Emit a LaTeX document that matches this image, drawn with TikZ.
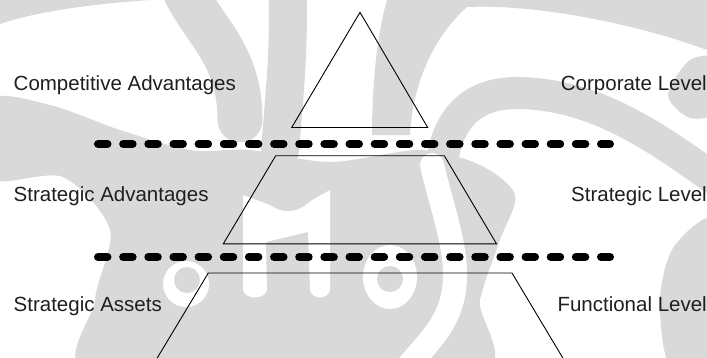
\documentclass[tikz,border=0pt]{standalone}
\usepackage{fontspec}
\setmainfont{Liberation Sans}
\definecolor{wmgray}{RGB}{217,217,217}
\begin{document}
\begin{tikzpicture}[x=1pt,y=-1pt,
  wm/.style={fill=wmgray},
  wmband/.style={draw=wmgray, line cap=round, line join=round},
  wmhole/.style={fill=white},
  levelshape/.style={draw=black, line width=0.9pt, line join=miter},
  divider/.style={draw=black, line width=8pt, line cap=round, dash pattern=on 9.5pt off 15.65pt},
  lbl/.style={font=\fontsize{20.5}{24}\selectfont, inner sep=0pt, text=black!88}]
\useasboundingbox (0,0) rectangle (707,357);

% background watermark
\begin{scope}
  \clip (0,0) rectangle (707,357);
  \fill[wm] (0,0) -- (150,0) .. controls (90,4) and (35,12) .. (0,24) -- cycle;
  \draw[wmband, line width=45pt] (180,-20) .. controls (200,30) and (240,50) .. (240,120);
  \draw[wmband, line width=38pt] (287,-20) .. controls (290,40) and (285,90) .. (280,150);
  % upper right arc and its arm
  \fill[wm] (387,0) -- (707,0) -- (707,50) .. controls (640,25) and (540,4) .. (467,7)
        .. controls (430,40) and (412,90) .. (410,135) -- (372,135)
        .. controls (372,80) and (378,30) .. (387,0) -- cycle;
  % arch through the right half
  \draw[wmband, line width=32pt] (440,190) .. controls (440,120) and (470,92) .. (520,93)
        .. controls (600,95) and (660,140) .. (730,190);
  \fill[wm] plot[smooth cycle] coordinates {(690,60) (668,95) (690,118) (720,110) (720,60)};
  \fill[wm] plot[smooth cycle] coordinates {(720,222) (675,245) (660,300) (672,370) (730,370)};
  % central mass
  \fill[wm] plot[smooth cycle] coordinates {
     (-10,100) (50,105) (120,130) (190,150) (250,150) (330,162) (420,150)
     (480,165) (515,195) (500,240) (480,300) (470,380) (100,380) (95,300)
     (110,230) (63,177) (-10,178)};
  % white figures inside the mark
  \fill[wmhole] (243,195) -- (270,205) .. controls (280,212) and (295,216) .. (312,200)
        -- (330,190) -- (330,290) .. controls (328,300) and (312,300) .. (310,290)
        -- (308,232) -- (266,242) -- (267,290) .. controls (265,300) and (245,300) .. (243,290) -- cycle;
  \fill[wmhole] (390,277) ellipse [x radius=27pt, y radius=32pt];
  \fill[wm] (390,279) circle [radius=13pt];
  \fill[wmhole] (186,284) circle [radius=23pt];
  \fill[wm] (187,280) circle [radius=13pt];
  \draw[draw=white, line width=24pt, line cap=round] (432,165) .. controls (445,220) and (462,260) .. (452,300)
        .. controls (444,330) and (425,345) .. (405,370);
\end{scope}

% pyramid corners
\coordinate (apex) at (360,12.3);
\coordinate (t1l) at (291.7,127.5);
\coordinate (t1r) at (427.7,127.5);
\coordinate (t2tl) at (275.7,155.7);
\coordinate (t2tr) at (444.3,155.7);
\coordinate (t2bl) at (223.3,243.8);
\coordinate (t2br) at (496.5,243.8);
\coordinate (t3tl) at (208.3,273);
\coordinate (t3tr) at (512,273);
\coordinate (t3bl) at (150,370);
\coordinate (t3br) at (570,370);

% dividers between the levels
\coordinate (d1w) at (98,144);
\coordinate (d1e) at (610,144);
\coordinate (d2w) at (98,257);
\coordinate (d2e) at (610,257);
\draw[divider] (d1w) -- (d1e);
\draw[divider] (d2w) -- (d2e);

% pyramid tiers
\draw[levelshape] (t1l) -- (apex) -- (t1r) -- cycle;
\draw[levelshape] (t2tl) -- (t2tr) -- (t2br) -- (t2bl) -- cycle;
\draw[levelshape] (t3bl) -- (t3tl) -- (t3tr) -- (t3br);

% labels
\node[lbl, anchor=base west] (compadv) at (13.5,90.5) {Competitive Advantages};
\node[lbl, anchor=base west] (stratadv) at (13.5,201) {Strategic Advantages};
\node[lbl, anchor=base west] (stratass) at (13.5,311) {Strategic Assets};
\node[lbl, anchor=base east] (corplev) at (707,90.5) {Corporate Level};
\node[lbl, anchor=base east] (stratlev) at (707,201) {Strategic Level};
\node[lbl, anchor=base east] (funclev) at (707,311) {Functional Level};
\end{tikzpicture}
\end{document}
